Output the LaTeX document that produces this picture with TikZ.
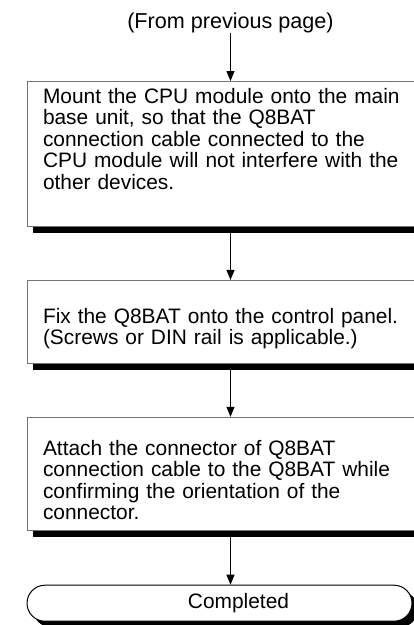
\documentclass[tikz,border=0pt]{standalone}
\usepackage{fontspec}
\setmainfont{Liberation Sans}
\usetikzlibrary{positioning,shadows,shapes.misc,arrows.meta}
\newcommand{\flowfont}{\fontsize{20.9}{21.5}\selectfont}
\tikzstyle{stepbox} = [rectangle, draw=black!55, line width=0.9pt, fill=white, general shadow={fill=black, shadow xshift=6pt, shadow yshift=-7pt}, inner xsep=16pt, inner ysep=0pt, text width=375pt, align=left, font=\flowfont]
\tikzstyle{endbox} = [rounded rectangle, draw=black, line width=1pt, fill=white, general shadow={fill=black, shadow xshift=6pt, shadow yshift=-6pt}, minimum width=385pt, minimum height=36pt, inner sep=0pt, font=\flowfont]
\tikzstyle{arrow} = [line width=1.1pt, -{Triangle[width=8pt,length=10pt]}]

\begin{document}
\begin{tikzpicture}[x=1pt, y=1pt, node distance=53pt]
    \clip (0,0) rectangle (414,-625);
    \node (mount) [stepbox, anchor=north, text height=22pt, text depth=123pt] at (230.5,-81) {Mount the CPU module onto the main\\ base unit, so that the Q8BAT\\ connection cable connected to the\\ CPU module will not interfere with the\\ other devices.};
    \node (prev) [above=48pt of mount, inner sep=0pt, font=\fontsize{21.6}{22}\selectfont] {(From previous page)};
    \node (fix) [stepbox, below=of mount, text height=43pt, text depth=40pt] {Fix the Q8BAT onto the control panel.\\ (Screws or DIN rail is applicable.)};
    \node (attach) [stepbox, below=of fix, text height=38pt, text depth=75pt] {Attach the connector of Q8BAT\\ connection cable to the Q8BAT while\\ confirming the orientation of the\\ connector.};
    \node (done) [endbox, below=54pt of attach, xshift=-11pt] {\hspace*{38pt}Completed};

    \draw [arrow] (prev) -- (mount);
    \draw [arrow] (mount) -- (fix);
    \draw [arrow] (fix) -- (attach);
    \draw [arrow] (attach.south) -- (attach.south |- done.north);
\end{tikzpicture}
\end{document}
